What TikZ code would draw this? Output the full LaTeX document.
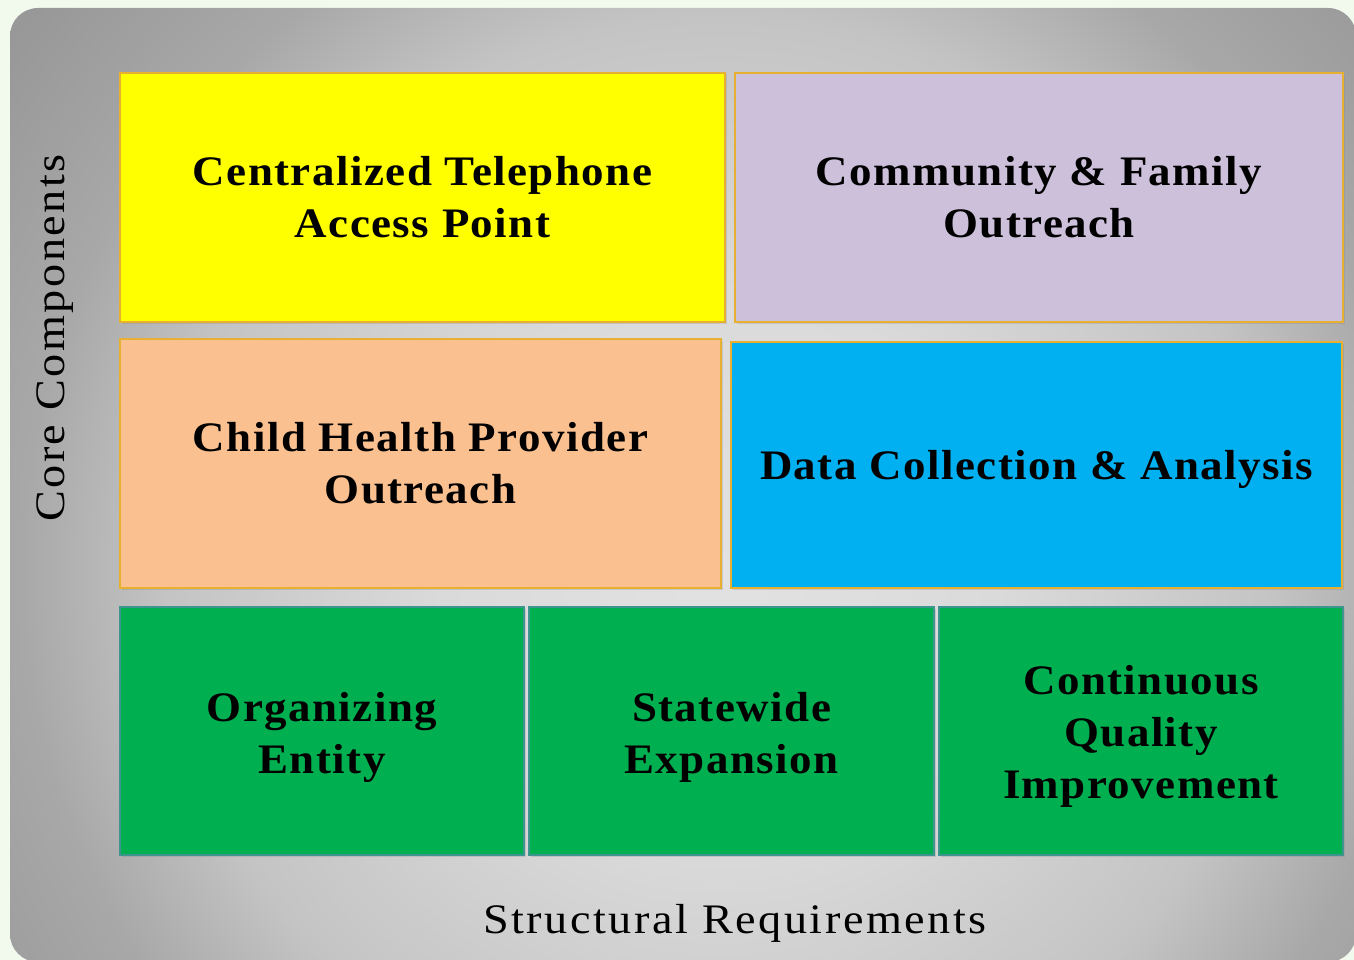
\documentclass[tikz,border=0pt]{standalone}
\usepackage{fontspec}
\setmainfont{Liberation Serif}
\newfontfamily\boxfont[FakeStretch=1.07, LetterSpace=3.5]{Liberation Serif}
\newfontfamily\axisfont[FakeStretch=1.1, LetterSpace=6]{Liberation Serif}
\usetikzlibrary{shadows}

\definecolor{pagebg}{HTML}{F2FAEE}
\definecolor{cyellow}{HTML}{FFFF00}
\definecolor{clavender}{HTML}{CCC0DA}
\definecolor{cpeach}{HTML}{FAC090}
\definecolor{cblue}{HTML}{00B0F0}
\definecolor{cgreen}{HTML}{00B050}
\definecolor{goldedge}{HTML}{E8B030}
\definecolor{tealedge}{HTML}{3E9590}
\definecolor{panelA}{HTML}{E2E2E2}
\definecolor{panelB}{HTML}{DADADA}
\definecolor{panelC}{HTML}{C4C4C4}
\definecolor{panelD}{HTML}{A8A8A8}
\definecolor{panelE}{HTML}{989898}

\pgfdeclareradialshading{panelshade}{\pgfpoint{0bp}{0bp}}{%
  color(0bp)=(panelA); color(7.6bp)=(panelB); color(15bp)=(panelC);
  color(19bp)=(panelD); color(24bp)=(panelE); color(50bp)=(panelE)}

% lower a stack of lines a little inside its box
\newcommand\lowered[2]{\raisebox{-#1}[\height][\depth]{\begin{tabular}{@{}c@{}}#2\end{tabular}}}

\tikzset{
  part/.style={draw=goldedge, line width=1.2pt, align=center, inner sep=0pt,
    font=\boxfont\bfseries\fontsize{42}{52}\selectfont,
    drop shadow={opacity=0.25, shadow xshift=1.5pt, shadow yshift=-1.5pt}},
  greenpart/.style={part, fill=cgreen, draw=tealedge, minimum width=404pt, minimum height=248pt},
  axislabel/.style={font=\axisfont\fontsize{42}{50}\selectfont}
}

\begin{document}
\begin{tikzpicture}[x=1pt,y=-1pt]

  \useasboundingbox (0,0) rectangle (1354,960);
  \fill[pagebg] (0,0) rectangle (1354,960);
  \begin{scope}
    \clip (0,0) rectangle (1354,960);
    \clip[rounded corners=28pt] (10,8) rectangle (1356,962);
    \shade[shading=panelshade] (720,570) circle[radius=920];
  \end{scope}

  % core components
  \begin{scope}[every node/.style={part, minimum height=249pt}]
    \node[fill=cyellow, minimum width=605pt] (access) at (422.5,197.5)
      {Centralized Telephone\\Access Point};
    \node[fill=clavender, minimum width=608pt] (community) at (1039,197.5)
      {Community \& Family\\Outreach};
    \node[fill=cpeach, minimum width=601pt] (provider) at (420.5,463.5)
      {Child Health Provider\\Outreach};
    \node[fill=cblue, minimum width=611pt, minimum height=246pt] (data) at (1036.5,465)
      {\lowered{4pt}{Data Collection \& Analysis}};
  \end{scope}

  % structural requirements
  \node[greenpart] (entity) at (322,731) {\lowered{6pt}{Organizing\\Entity}};
  \node[greenpart, minimum width=405pt] (statewide) at (731.5,731) {\lowered{6pt}{Statewide\\Expansion}};
  \node[greenpart] (quality) at (1141,731) {\lowered{5pt}{Continuous\\Quality\\Improvement}};

  \node[axislabel, rotate=90] (core) at (55,338) {Core Components};
  \node[axislabel] (struct) at (735,923) {Structural Requirements};

\end{tikzpicture}
\end{document}
